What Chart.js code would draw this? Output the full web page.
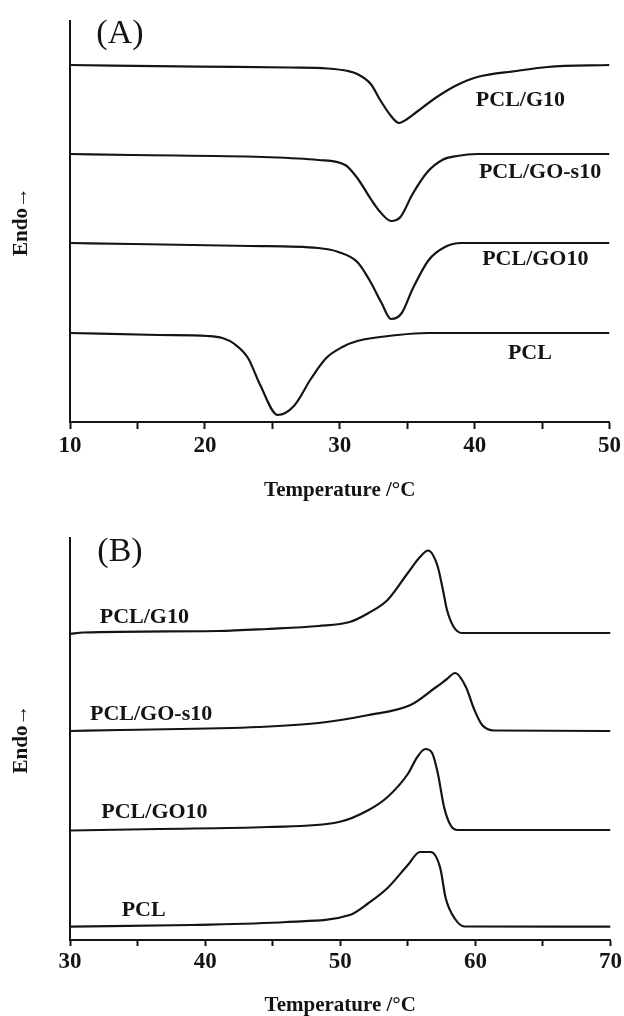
<!DOCTYPE html>
<html><head><meta charset="utf-8">
<script src="https://cdn.jsdelivr.net/npm/chart.js@4.4.1/dist/chart.umd.min.js"></script>
<style>
html,body{margin:0;padding:0;background:#fff;}
#wrap{position:relative;width:624px;height:1016px;overflow:hidden;}
.pane{position:absolute;left:0;width:624px;height:508px;}
</style></head><body>
<div id="wrap">
<div class="pane" style="top:0"><canvas id="cA" width="624" height="508"></canvas></div>
<div class="pane" style="top:508px"><canvas id="cB" width="624" height="508"></canvas></div>
</div>
<script>
// ---------- Panel A (cooling scans, exothermic crystallisation) ----------
const seriesNames = ['PCL/G10', 'PCL/GO-s10', 'PCL/GO10', 'PCL'];
const xTicksA = [10, 20, 30, 40, 50];
const xTicksB = [30, 40, 50, 60, 70];

const tempA_G10  = [10, 19.6, 26.3, 29.1, 30.6, 31.3, 32.3, 33.0, 33.8, 34.4, 35.0, 35.7, 37.2, 38.7, 40.2, 43.1, 45.4, 50];
const heatA_G10  = [35.7, 35.53, 35.45, 35.35, 35.1, 34.8, 33.8, 32.2, 30.6, 29.9, 30.3, 31.0, 32.5, 33.7, 34.5, 35.1, 35.5, 35.7];
const tempA_GOs10 = [10, 14.6, 24.3, 28.4, 30.4, 31.3, 32.3, 33.0, 33.8, 34.5, 35.4, 36.5, 37.6, 38.7, 40.2, 50];
const heatA_GOs10 = [26.8, 26.7, 26.5, 26.2, 25.7, 24.4, 22.3, 21.0, 20.1, 20.5, 22.8, 25.0, 26.2, 26.6, 26.8, 26.8];
const tempA_GO10 = [10, 14.6, 23.4, 28.4, 29.9, 31.3, 32.2, 33.1, 33.8, 34.6, 35.4, 36.6, 37.8, 39.0, 50];
const heatA_GO10 = [17.9, 17.8, 17.6, 17.4, 17.0, 16.0, 14.2, 11.9, 10.3, 10.9, 13.3, 16.2, 17.5, 17.9, 17.9];
const tempA_PCL  = [10, 16.6, 20.2, 21.3, 22.2, 23.2, 24.1, 25.4, 26.6, 27.9, 29.0, 30.2, 31.3, 34.3, 36.5, 50];
const heatA_PCL  = [8.9, 8.7, 8.6, 8.4, 7.8, 6.4, 3.7, 0.7, 1.6, 4.4, 6.4, 7.5, 8.1, 8.7, 8.9, 8.9];

// ---------- Panel B (heating scans, endothermic melting) ----------
const tempB_G10  = [30, 31.0, 41.0, 44.6, 48.4, 50.7, 52.1, 53.5, 55.0, 55.9, 56.5, 57.2, 57.6, 57.9, 58.4, 59.0, 70];
const heatB_G10  = [30.6, 30.75, 30.9, 31.1, 31.4, 31.8, 32.7, 34.0, 36.7, 38.3, 38.95, 37.4, 35.0, 33.0, 31.3, 30.7, 30.7];
const tempB_GOs10 = [30, 33.7, 44.0, 48.4, 52.1, 55.2, 57.0, 57.9, 58.5, 59.3, 59.9, 60.5, 61.4, 70];
const heatB_GOs10 = [20.9, 21.0, 21.3, 21.7, 22.5, 23.5, 25.2, 26.1, 26.7, 25.3, 23.1, 21.5, 20.95, 20.9];
const tempB_GO10 = [30, 36.6, 44.6, 49.9, 52.1, 53.5, 55.0, 55.7, 56.3, 56.8, 57.2, 57.7, 58.2, 58.7, 70];
const heatB_GO10 = [10.95, 11.1, 11.3, 11.8, 13.0, 14.3, 16.6, 18.3, 19.1, 18.7, 16.8, 13.2, 11.4, 11.0, 11.0];
const tempB_PCL  = [30, 39.0, 46.0, 50.7, 52.1, 53.5, 55.0, 55.9, 56.7, 57.4, 57.8, 58.5, 59.2, 70];
const heatB_PCL  = [1.33, 1.5, 1.8, 2.5, 3.7, 5.2, 7.5, 8.8, 8.8, 7.2, 4.2, 2.1, 1.35, 1.33];

// curve labels, anchored in data units (temperature, heat flow)
const labelTempA = [43.4, 44.85, 44.5, 44.1];
const labelHeatA = [32.2, 25.0, 16.3, 6.9];
const labelTempB = [35.5, 36.0, 36.25, 35.45];
const labelHeatB = [32.3, 22.6, 12.8, 3.0];
const panelTag = ['(A)', '(B)'];
const panelTagTemp = [13.7, 33.7];
const panelTagHeat = [38.8, 38.8];

const INK = '#141414';
const SERIF = '"Liberation Serif", "Times New Roman", serif';

function zip(xs, ys){ return xs.map((x,i)=>({x:x, y:ys[i]})); }
function ds(xs, ys){
  return {data: zip(xs, ys), borderColor: INK, borderWidth: 2.2, pointRadius: 0,
          cubicInterpolationMode: 'monotone', fill: false};
}

const textPlugin = {
  id: 'curveText',
  afterDatasetsDraw(chart, args, opts){
    const {ctx, scales:{x, y}} = chart;
    ctx.save();
    ctx.fillStyle = INK;
    ctx.textAlign = 'center';
    ctx.textBaseline = 'middle';
    ctx.font = 'bold 22px ' + SERIF;
    opts.names.forEach((n,i)=>{
      ctx.fillText(n, x.getPixelForValue(opts.tx[i]), y.getPixelForValue(opts.ty[i]));
    });
    ctx.font = '34px ' + SERIF;
    ctx.fillText(opts.tag, x.getPixelForValue(opts.tagX), y.getPixelForValue(opts.tagY));
    ctx.restore();
  }
};

function makeChart(id, datasets, xmin, xmax, ymax, ticksList, padTop, xHeight, tickPad, tickLen, titlePadB, txt){
  return new Chart(document.getElementById(id), {
    type: 'line',
    data: {datasets: datasets},
    plugins: [textPlugin],
    options: {
      responsive: false, animation: false,
      layout: {padding: {top: padTop, right: 0, left: 0, bottom: 0}},
      plugins: {legend: {display: false}, tooltip: {enabled: false}, curveText: txt},
      scales: {
        x: {
          type: 'linear', min: xmin, max: xmax,
          afterBuildTicks: s => { const t=[]; for(let v=xmin; v<=xmax; v+=5) t.push({value:v}); s.ticks = t; },
          ticks: {autoSkip: false, maxRotation: 0, color: INK, padding: tickPad,
                  font: {family: SERIF, weight: 'bold', size: 23},
                  callback: v => ticksList.includes(v) ? String(v) : ''},
          grid: {drawOnChartArea: false, drawTicks: true, tickLength: tickLen, tickColor: INK, tickWidth: 2},
          border: {display: true, color: INK, width: 2},
          title: {display: true, text: 'Temperature /°C', color: INK,
                  font: {family: SERIF, weight: 'bold', size: 21, lineHeight: 1},
                  padding: {top: 0, bottom: titlePadB}},
          afterFit: s => { s.height = xHeight; }
        },
        y: {
          min: 0, max: ymax,
          ticks: {display: false},
          grid: {drawOnChartArea: false, drawTicks: false},
          border: {display: true, color: INK, width: 2},
          title: {display: true, text: 'Endo→', color: INK,
                  font: {family: SERIF, weight: 'bold', size: 21, lineHeight: 1},
                  padding: {top: 11, bottom: 0}},
          afterFit: s => { s.width = 70; }
        }
      }
    }
  });
}

makeChart('cA', [
  ds(tempA_G10, heatA_G10), ds(tempA_GOs10, heatA_GOs10), ds(tempA_GO10, heatA_GO10), ds(tempA_PCL, heatA_PCL)
], 10, 50, 40.1, xTicksA, 21, 86, 3, 7, 7,
  {names: seriesNames, tx: labelTempA, ty: labelHeatA, tag: panelTag[0], tagX: panelTagTemp[0], tagY: panelTagHeat[0]});

makeChart('cB', [
  ds(tempB_G10, heatB_G10), ds(tempB_GOs10, heatB_GOs10), ds(tempB_GO10, heatB_GO10), ds(tempB_PCL, heatB_PCL)
], 30, 70, 40.2, xTicksB, 30, 76, 2, 6, 0,
  {names: seriesNames, tx: labelTempB, ty: labelHeatB, tag: panelTag[1], tagX: panelTagTemp[1], tagY: panelTagHeat[1]});
</script>
</body></html>
